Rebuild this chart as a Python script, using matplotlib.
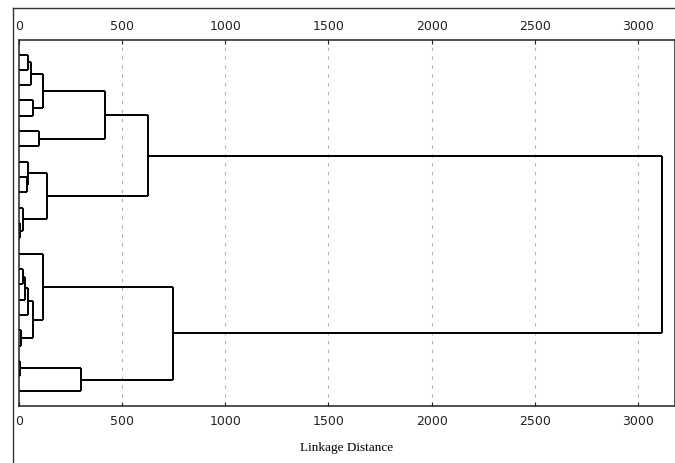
import matplotlib
matplotlib.use("Agg")
import matplotlib.pyplot as plt
from matplotlib.lines import Line2D

# ---- data: hierarchical clustering merges (child_a, child_b, linkage distance)
n_leaves = 23
merge_a = [0, 23, 3, 24, 5, 26, 8, 7, 11, 10, 30, 28, 14, 35, 36, 18, 37, 13, 20, 41, 40, 34]
merge_b = [1, 2, 4, 25, 6, 27, 9, 29, 12, 31, 32, 33, 15, 16, 17, 19, 38, 39, 21, 22, 42, 43]
merge_h = [44, 58, 68, 116, 97, 417, 40, 46, 3, 20, 136, 625, 20, 30, 42, 8, 68, 116, 5, 300, 746, 3117]
tick_values = [0, 500, 1000, 1500, 2000, 2500, 3000]
tick_labels = ["0", "500", "1000", "1500", "2000", "2500", "3000"]
x_label = "Linkage Distance"

W, H = 675, 464
fig = plt.figure(figsize=(W / 100, H / 100), dpi=100)
fig.patch.set_facecolor("white")

ax_left, ax_right, ax_top, ax_bot = 19, 675, 41, 407
ax = fig.add_axes([ax_left / W, 1 - ax_bot / H, (ax_right - ax_left) / W, (ax_bot - ax_top) / H])

# compute node positions
pos = {i: float(i) for i in range(n_leaves)}
hgt = {i: 0.0 for i in range(n_leaves)}
lw = 1.4
for k, (a, b, h) in enumerate(zip(merge_a, merge_b, merge_h)):
    node = n_leaves + k
    ya, yb = pos[a], pos[b]
    ha, hb = hgt[a], hgt[b]
    ax.plot([ha, h], [ya, ya], color="black", lw=lw, solid_capstyle="butt")
    ax.plot([hb, h], [yb, yb], color="black", lw=lw, solid_capstyle="butt")
    ax.plot([h, h], [ya, yb], color="black", lw=lw, solid_capstyle="butt")
    pos[node] = (ya + yb) / 2
    hgt[node] = h

x_per_px = 3000 / (638 - 19)
ax.set_xlim(0, (ax_right - ax_left) * x_per_px)
ax.set_ylim(n_leaves - 1 + 0.95, -0.95)

ax.set_yticks([])
ax.set_xticks(tick_values)
ax.set_xticklabels(tick_labels)
ax.tick_params(axis="x", direction="in", length=3, width=0.8, top=True, labeltop=True,
               bottom=True, labelbottom=True, labelsize=9, pad=6, colors="#222222")
for lab in ax.get_xticklabels():
    lab.set_family(["Liberation Sans Narrow", "DejaVu Sans"])
for t in ax.xaxis.get_major_ticks():
    t.label2.set_family(["Liberation Sans Narrow", "DejaVu Sans"])

for v in tick_values[1:]:
    ax.axvline(v, color="#b0b0b0", lw=0.8, ls=(0, (3, 5)), zorder=0)

for s in ax.spines.values():
    s.set_linewidth(1.1)
    s.set_color("#222222")

ax.set_xlabel(x_label, family=["Liberation Serif", "DejaVu Serif"], fontsize=9.5, labelpad=10)

# outer frame lines (top and left)
fig.add_artist(Line2D([13 / W, 1], [1 - 9 / H, 1 - 9 / H], color="#333333", lw=1.0, transform=fig.transFigure))
fig.add_artist(Line2D([13 / W, 13 / W], [0, 1 - 9 / H], color="#333333", lw=1.0, transform=fig.transFigure))

fig.savefig("out.png", dpi=100)
